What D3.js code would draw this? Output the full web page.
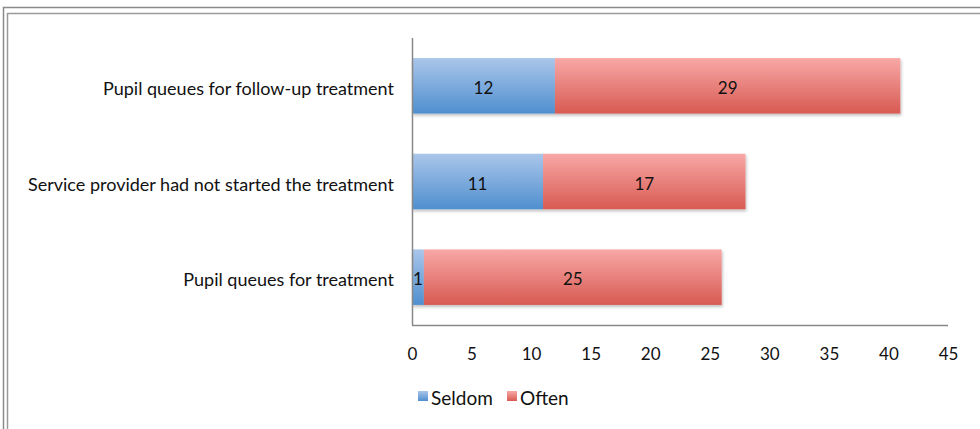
<!DOCTYPE html>
<html>
<head>
<meta charset="utf-8">
<script src="https://cdn.jsdelivr.net/npm/d3@7"></script>
<style>
  body { margin: 0; background: #fff; }
  text { font-family: Lato, "Open Sans", sans-serif; fill: #111; }
</style>
</head>
<body>
<div id="chart"></div>
<script>
const categories = [
	"Pupil queues for follow-up treatment",
	"Service provider had not started the treatment",
	"Pupil queues for treatment"
];
const seriesNames = ["Seldom", "Often"];
const seldom = [12, 11, 1];
const often = [29, 17, 25];
const xTicks = [0, 5, 10, 15, 20, 25, 30, 35, 40, 45];

var W = 980, H = 429;
var margin = { top: 38, left: 412, right: 32, bottom: 104 };
var width = W - margin.left - margin.right,
	height = H - margin.top - margin.bottom;

var svg = d3.select("#chart").append("svg")
	.attr("width", W).attr("height", H);

// frame
svg.append("path").attr("d", "M3.5,429 V7.5 H980").attr("fill", "none").attr("stroke", "#8a8a8a").attr("stroke-width", 1.5);
svg.append("path").attr("d", "M7.5,429 V13.5 H980").attr("fill", "none").attr("stroke", "#9a9a9a").attr("stroke-width", 1.5);

var defs = svg.append("defs");
function grad(id, c1, c2) {
	var g = defs.append("linearGradient").attr("id", id)
		.attr("x1", 0).attr("y1", 0).attr("x2", 0).attr("y2", 1);
	g.append("stop").attr("offset", "0%").attr("stop-color", c1);
	g.append("stop").attr("offset", "100%").attr("stop-color", c2);
}
grad("gBlue", "#aac6ea", "#4f8fcf");
grad("gRed", "#f8a8a6", "#d85a52");
var f = defs.append("filter").attr("id", "shadow").attr("x", "-5%").attr("y", "-10%").attr("width", "110%").attr("height", "130%");
f.append("feDropShadow").attr("dx", 1).attr("dy", 2).attr("stdDeviation", 1.5).attr("flood-color", "#000").attr("flood-opacity", 0.25);

var g = svg.append("g").attr("transform", "translate(" + margin.left + "," + margin.top + ")");

var x = d3.scaleLinear().domain([0, 45]).range([0, 536]);
var y = d3.scaleBand().domain(categories).range([0, height]).paddingInner(0.42).paddingOuter(0.21);

// bars
var colors = ["url(#gBlue)", "url(#gRed)"];
var rows = categories.map(function (c, i) {
	return { cat: c, vals: [seldom[i], often[i]] };
});
rows.forEach(function (r) {
	var start = 0;
	var row = g.append("g").attr("filter", "url(#shadow)");
	r.vals.forEach(function (v, k) {
		row.append("rect")
			.attr("x", x(start))
			.attr("y", y(r.cat))
			.attr("width", x(start + v) - x(start))
			.attr("height", y.bandwidth())
			.attr("fill", colors[k]);
		start += v;
	});
	start = 0;
	r.vals.forEach(function (v) {
		g.append("text")
			.attr("x", (x(start) + x(start + v)) / 2)
			.attr("y", y(r.cat) + y.bandwidth() / 2 + 2)
			.attr("dy", "0.36em")
			.attr("text-anchor", "middle")
			.style("font-size", "17px")
			.text(v);
		start += v;
	});
});

// axes
g.append("line").attr("x1", 0.5).attr("x2", 0.5).attr("y1", 0).attr("y2", height).attr("stroke", "#888").attr("stroke-width", 1.5);
g.append("line").attr("x1", 0).attr("x2", x(45)).attr("y1", height + 0.5).attr("y2", height + 0.5).attr("stroke", "#888").attr("stroke-width", 1.5);

var xa = g.append("g").attr("transform", "translate(0," + height + ")")
	.call(d3.axisBottom(x).tickValues(xTicks).tickSize(0).tickPadding(23));
xa.select(".domain").remove();
xa.selectAll("text").style("font-size", "17px").style("font-family", "Lato, sans-serif").attr("fill", "#111");

var ya = g.append("g").call(d3.axisLeft(y).tickSize(0).tickPadding(18));
ya.select(".domain").remove();
ya.selectAll("text").attr("dy", "0.5em").style("font-size", "18px").style("font-family", "Lato, sans-serif").attr("fill", "#111");

// legend
var legend = svg.append("g").attr("transform", "translate(418,397)");
var lx = [0, 89];
seriesNames.forEach(function (n, i) {
	legend.append("rect").attr("x", lx[i]).attr("y", -6).attr("width", 10).attr("height", 10).attr("fill", colors[i]);
	legend.append("text").attr("x", lx[i] + 13).attr("y", 1).attr("dy", "0.35em").style("font-size", "19px").text(n);
});
</script>
</body>
</html>
